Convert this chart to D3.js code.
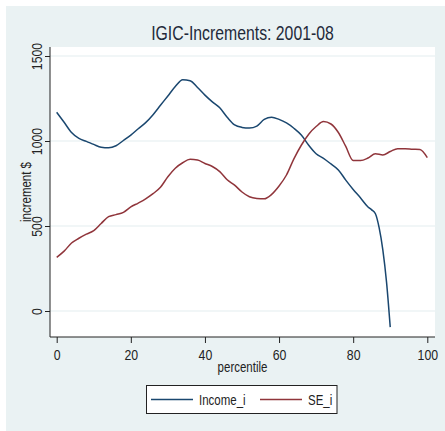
<!DOCTYPE html>
<html>
<head>
<meta charset="utf-8">
<script src="https://cdn.jsdelivr.net/npm/d3@7/dist/d3.min.js"></script>
<style>
  html, body { margin: 0; padding: 0; background: #ffffff; }
  svg { display: block; }
  text { font-family: 'Liberation Sans Narrow', 'Arial Narrow', 'Liberation Sans', Arial, sans-serif; }
</style>
</head>
<body>
<svg id="chart" width="445" height="431"></svg>
<script>
// Percentile increments, 2001-08
const titleText = "IGIC-Increments: 2001-08";
const xTitle = "percentile";
const yTitle = "increment $";
const xTicks = [0, 20, 40, 60, 80, 100];
const yTicks = [0, 500, 1000, 1500];
const seriesNames = ["Income_i", "SE_i"];

const incomePct = [0, 2, 4, 6, 8, 10, 12, 14, 16, 18, 20, 22, 24, 26, 28, 30, 32, 34, 36, 38,
  40, 42, 44, 46, 48, 50, 52, 54, 56, 58, 60, 62, 64, 66, 68, 70, 72, 74, 76, 78,
  80, 82, 84, 85, 86, 87, 88, 89, 90];
const incomeVal = [1169, 1110, 1050, 1015, 998, 980, 963, 960, 972, 1003, 1035, 1072, 1108, 1155, 1210, 1265, 1320, 1360, 1355, 1315,
  1270, 1230, 1195, 1140, 1095, 1080, 1076, 1088, 1127, 1140, 1127, 1106, 1075, 1035, 975, 925, 898, 865, 830, 770,
  715, 665, 612, 595, 572, 490, 360, 170, -95];

const sePct = [0, 2, 4, 6, 8, 10, 12, 14, 16, 18, 20, 22, 24, 26, 28, 30, 32, 34, 36, 38,
  40, 42, 44, 46, 48, 50, 52, 54, 56, 58, 60, 62, 64, 66, 68, 70, 72, 74, 76, 78,
  80, 82, 84, 86, 88, 90, 92, 94, 96, 98, 100];
const seVal = [316, 352, 400, 428, 452, 473, 515, 555, 567, 580, 612, 635, 660, 690, 728, 790, 840, 872, 892, 888,
  868, 850, 820, 772, 740, 700, 672, 662, 660, 686, 735, 800, 895, 975, 1040, 1085, 1114, 1100, 1050, 968,
  885, 885, 900, 925, 918, 938, 955, 955, 952, 950, 902];

const colors = ["#1a476f", "#90353b"];
const inkColor = "#222";

const svg = d3.select("#chart");

// squeeze text horizontally to a narrow face
function condense(sel, ratio) {
  sel.each(function () {
    const len = this.getComputedTextLength();
    d3.select(this).attr("textLength", len * ratio).attr("lengthAdjust", "spacingAndGlyphs");
  });
}

// outer graph region
svg.append("rect").attr("x", 6).attr("y", 6).attr("width", 439).attr("height", 425)
  .attr("fill", "#eaf2f3");

// plot region
const plot = { left: 50, right: 435, top: 47, bottom: 337 };
svg.append("rect").attr("x", plot.left).attr("y", plot.top)
  .attr("width", plot.right - plot.left).attr("height", plot.bottom - plot.top)
  .attr("fill", "#ffffff");

const x = d3.scaleLinear().domain([0, 100]).range([56.7, 427.3]);
const y = d3.scaleLinear().domain([0, 1500]).range([311, 56]);

// horizontal grid lines
svg.append("g").selectAll("line").data(yTicks).join("line")
  .attr("x1", plot.left).attr("x2", plot.right)
  .attr("y1", d => y(d)).attr("y2", d => y(d))
  .attr("stroke", "#e4eef0").attr("stroke-width", 1.2);

// series lines
const line = d3.line().x(d => x(d[0])).y(d => y(d[1])).curve(d3.curveMonotoneX);
const incomeData = incomePct.map((p, i) => [p, incomeVal[i]]);
const seData = sePct.map((p, i) => [p, seVal[i]]);
[incomeData, seData].forEach((data, i) => {
  svg.append("path").datum(data).attr("d", line)
    .attr("fill", "none").attr("stroke", colors[i]).attr("stroke-width", 1.5)
    .attr("stroke-linejoin", "round");
});

// y axis
const yAxis = svg.append("g").attr("transform", `translate(${plot.left},0)`)
  .call(d3.axisLeft(y).tickValues(yTicks).tickSize(5).tickSizeOuter(0).tickFormat(d3.format("d")));
yAxis.select(".domain").remove();
yAxis.append("line").attr("x1", 0).attr("x2", 0).attr("y1", plot.top).attr("y2", plot.bottom)
  .attr("stroke", inkColor);
yAxis.selectAll(".tick line").attr("stroke", inkColor);
yAxis.selectAll(".tick text")
  .attr("x", null).attr("dy", null)
  .attr("transform", "translate(-8,0) rotate(-90)")
  .attr("text-anchor", "middle")
  .attr("font-size", 15).attr("fill", inkColor)
  .call(condense, 0.82);

// x axis
const xAxis = svg.append("g").attr("transform", `translate(0,${plot.bottom})`)
  .call(d3.axisBottom(x).tickValues(xTicks).tickSize(6).tickSizeOuter(0).tickFormat(d3.format("d")));
xAxis.select(".domain").remove();
xAxis.append("line").attr("x1", plot.left).attr("x2", plot.right).attr("y1", 0).attr("y2", 0)
  .attr("stroke", inkColor);
xAxis.selectAll(".tick line").attr("stroke", inkColor);
xAxis.selectAll(".tick text").attr("y", 23).attr("dy", null)
  .attr("font-size", 15).attr("fill", inkColor)
  .call(condense, 0.82);

// titles
svg.append("text").attr("x", 242.5).attr("y", 40).attr("text-anchor", "middle")
  .attr("font-size", 20).attr("fill", "#1f2a3a").text(titleText)
  .call(condense, 0.79);
svg.append("text").attr("x", 242.5).attr("y", 372).attr("text-anchor", "middle")
  .attr("font-size", 14).attr("fill", inkColor).text(xTitle)
  .call(condense, 0.82);
svg.append("text").attr("transform", "translate(31,192) rotate(-90)").attr("text-anchor", "middle")
  .attr("font-size", 14).attr("fill", inkColor).text(yTitle)
  .call(condense, 0.82);

// legend
const legend = svg.append("g");
legend.append("rect").attr("x", 146.5).attr("y", 385.5).attr("width", 190.5).attr("height", 28)
  .attr("fill", "#ffffff").attr("stroke", inkColor).attr("stroke-width", 1);
const legendItems = [
  { name: seriesNames[0], color: colors[0], x1: 151, x2: 193, tx: 199 },
  { name: seriesNames[1], color: colors[1], x1: 260, x2: 302, tx: 308 }
];
legendItems.forEach(it => {
  legend.append("line").attr("x1", it.x1).attr("x2", it.x2).attr("y1", 399.5).attr("y2", 399.5)
    .attr("stroke", it.color).attr("stroke-width", 1.5);
  legend.append("text").attr("x", it.tx).attr("y", 404.5).attr("font-size", 14)
    .attr("fill", inkColor).text(it.name)
    .call(condense, 0.82);
});
</script>
</body>
</html>
